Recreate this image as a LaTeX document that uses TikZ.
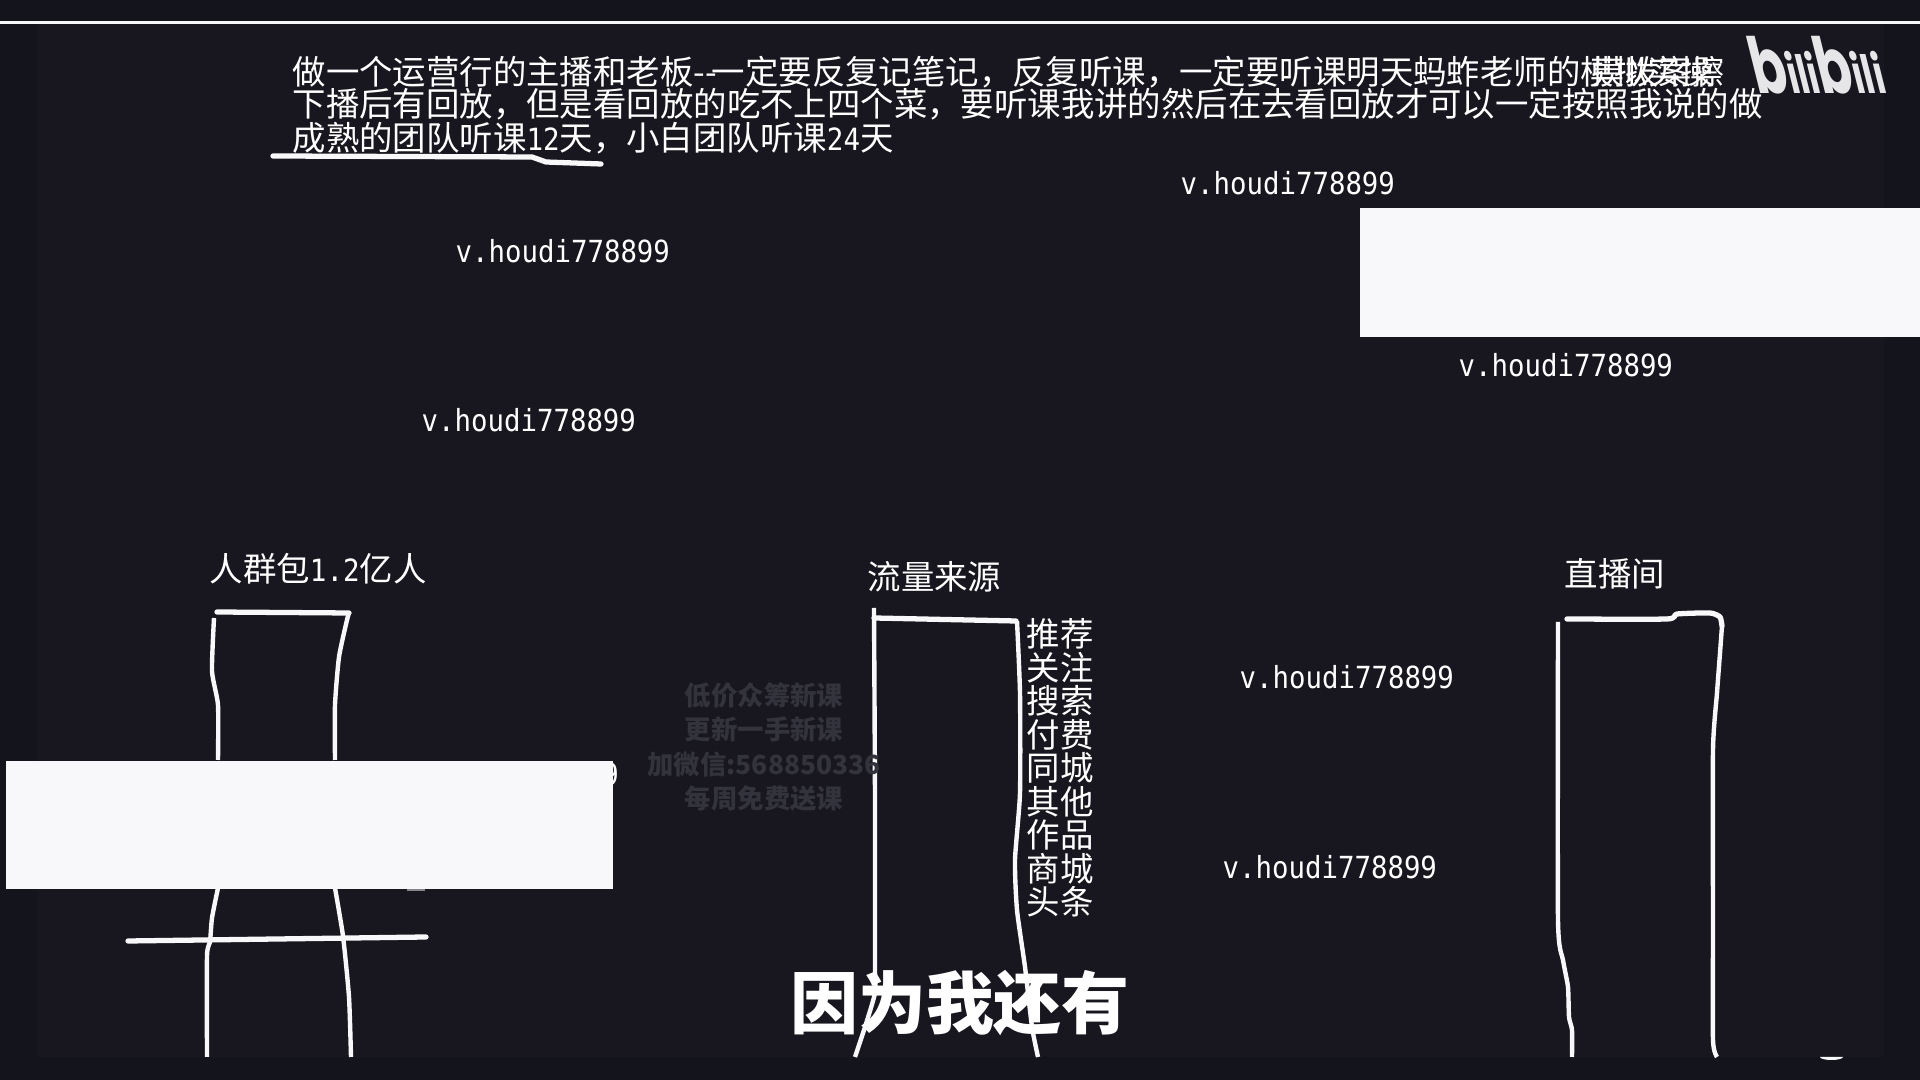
\documentclass[tikz,border=0pt]{standalone}
\usepackage{fontspec}
\usepackage{tikz}
\setmainfont{Noto Sans CJK SC}
\newfontfamily\monofont[FakeStretch=0.9]{DejaVu Sans Mono}
\newfontfamily\logofont{Poppins}
\newcommand{\halfnum}[1]{{\monofont\fontsize{8.7}{8.7}\selectfont #1}}
\definecolor{bgouter}{HTML}{14141C}
\definecolor{bginner}{HTML}{18171F}
\definecolor{penwhite}{HTML}{F8F8FB}
\definecolor{markgray}{HTML}{33333D}
\begin{document}
\begin{tikzpicture}[
  x=0.01cm, y=-0.01cm,
  line/.style={anchor=west, inner sep=0pt, text=white, font=\fontsize{9.5}{9.5}\selectfont},
  handle/.style={anchor=west, inner sep=0pt, text=white, font=\monofont\fontsize{8.65}{8.65}\selectfont},
  pen/.style={draw=penwhite, line width=1.25pt, line join=round},
  thickpen/.style={draw=penwhite, line width=1.5pt, line cap=round, line join=round},
  blank/.style={fill=penwhite, draw=none},
  smoothed/.style={smooth, tension=0.35}
]
  \useasboundingbox (0, 0) rectangle (1920, 1080);
  \fill[bgouter] (-4, -4) rectangle (1924, 1084);
  \fill[bginner] (38, 24) rectangle (1884, 1057);
  \draw[penwhite, line width=0.6pt] (-4, 22.5) -- (1924, 22.5);

  \node[line] (noteA) at (292, 72) {做一个运营行的主播和老板{-}{-}\hspace{-1.4pt}一定要反复记笔记，反复听课，一定要听课明天蚂蚱老师的};
  \node[line] (overlapA) at (1580, 72) {模拟实操};
  \node[line] (overlapB) at (1591, 72) {摸拨案擦};
  \node[line] (noteB) at (292, 104) {下播后有回放，但是看回放的吃不上四个菜，要听课我讲的然后在去看回放才可以一定按照我说的做};
  \node[line] (noteC) at (292, 138) {成熟的团队听课\halfnum{12}天，小白团队听课\halfnum{24}天};
  \draw[thickpen] (273, 156) -- (532, 157) -- (546, 162) -- (601, 164);

  \node[handle] (handleA) at (455, 251) {v.houdi778899};
  \node[handle] (handleB) at (1180, 183) {v.houdi778899};
  \node[handle] (handleC) at (1458, 365) {v.houdi778899};
  \node[handle] (handleD) at (421, 420) {v.houdi778899};
  \node[handle] (handleE) at (1239, 677) {v.houdi778899};
  \node[handle] (handleF) at (1222, 867) {v.houdi778899};
  \node[handle] (handleG) at (404, 774) {v.houdi778899};

  \node[line] (crowd) at (209, 569) {人群包\halfnum{1.2}亿人};
  \node[line] (traffic) at (867, 577) {流量来源};
  \node[line] (room) at (1564, 574) {直播间};
  \node[line, align=left, anchor=north west, font=\fontsize{9.5}{9.53}\selectfont] (sources) at (1026, 618) {推荐\\关注\\搜索\\付费\\同城\\其他\\作品\\商城\\头条};

  \draw[thickpen] (217, 612) -- (349, 613);
  \draw[pen] plot[smoothed] coordinates {(349, 613) (347, 620) (339, 657) (335, 705) (335, 760)};
  \draw[pen] plot[smoothed] coordinates {(214, 618) (212, 671) (218, 705) (218, 760)};
  \draw[pen] plot[smoothed] coordinates {(218, 888) (212, 918) (210, 942) (207, 956) (207, 1057)};
  \draw[pen] plot[smoothed] coordinates {(335, 888) (343, 936) (349, 997) (351, 1057)};
  \draw[thickpen] (128, 941) -- (426, 937);

  \draw[pen] plot[smoothed] coordinates {(874, 608) (875, 800) (875, 967) (875, 993) (865, 1027) (855, 1057)};
  \draw[thickpen] (874, 618) -- (1016, 621);
  \draw[pen] plot[smoothed] coordinates {(1017, 621) (1020, 693) (1020, 793) (1015, 860) (1017, 910) (1025, 967) (1032, 1027) (1038, 1057)};

  \draw[pen] plot[smoothed] coordinates {(1558, 622) (1558, 920) (1563, 960) (1568, 987) (1569, 1017) (1572, 1030) (1572, 1057)};
  \draw[thickpen, line cap=round] plot[smoothed] coordinates {(1567, 619) (1667, 619) (1677, 614) (1710, 613) (1720, 617) (1722, 626)};
  \draw[pen] plot[smoothed] coordinates {(1722, 626) (1720, 653) (1717, 693) (1713, 750) (1713, 927) (1713, 1040) (1717, 1057)};

  \path[blank] (1360, 208) rectangle (1924, 337);
  \path[blank] (6, 761) rectangle (613, 889);
  \fill[markgray!60!white] (407, 889) rectangle (425, 891);
  \fill[penwhite] (1820, 1057) arc[start angle=180, end angle=0, x radius=11.5, y radius=3];

  \node[align=center, text=markgray, font=\bfseries\fontsize{7.5}{9.8}\selectfont, inner sep=0pt] (watermark) at (764, 747) {低价众筹新课\\更新一手新课\\加微信:568850336\\每周免费送课};
  \node[inner sep=0pt, text=white, font=\bfseries\fontsize{19.3}{19.3}\selectfont] (caption) at (960, 1003) {因为我还有};

  \begin{scope}[shift={(1757, 94)}, xslant=-0.25, xscale=0.66]
    \node[transform shape, anchor=base west, inner sep=0pt, text=penwhite!85!gray, font=\logofont\bfseries\fontsize{15}{15}\selectfont] (logo) at (0, 0) {{\fontsize{22}{22}\selectfont b}ili{\fontsize{22}{22}\selectfont b}ili};
  \end{scope}
\end{tikzpicture}
\end{document}
